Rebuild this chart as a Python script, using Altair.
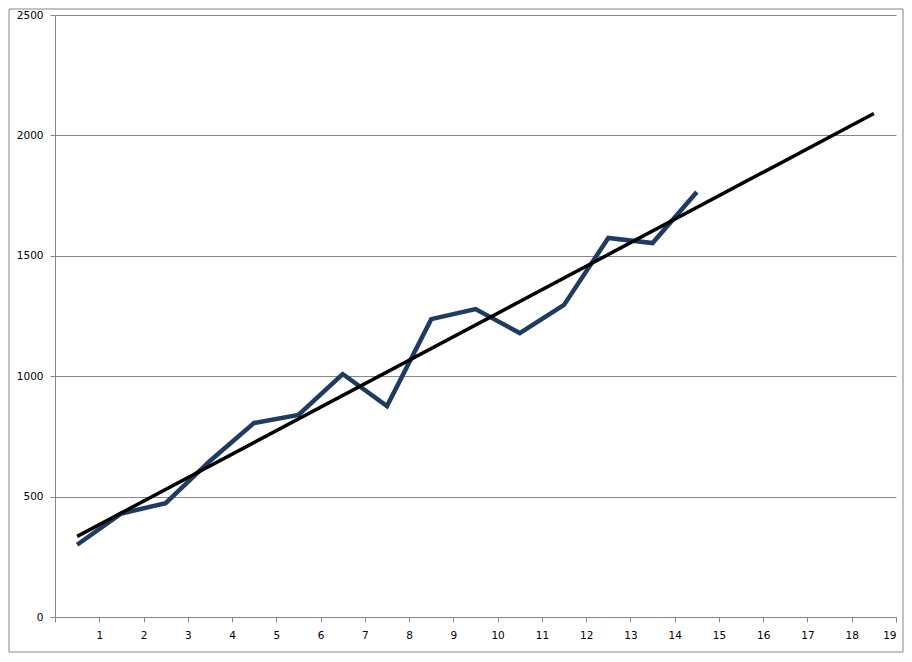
import pandas as pd
import altair as alt

# ── colours ──────────────────────────────────────────────────────────────────

SERIES_COLOR = "#1F3B63"
TREND_COLOR  = "#000000"
AXIS_COLOR   = "#868686"
FONT         = "DejaVu Sans"

# ── data ─────────────────────────────────────────────────────────────────────

positions = [0.5, 1.5, 2.5, 3.5, 4.5, 5.5, 6.5, 7.5, 8.5, 9.5, 10.5, 11.5, 12.5, 13.5, 14.5]
values    = [300, 430, 473, 648, 806, 839, 1009, 876, 1237, 1279, 1179, 1296, 1574, 1553, 1765]

x_ticks = list(range(0, 20))
y_ticks = [0, 500, 1000, 1500, 2000, 2500]

df = pd.DataFrame({"x": positions, "y": values})

W, H = 841, 602

x_enc = alt.X(
    "x:Q",
    title=None,
    scale=alt.Scale(domain=[0, 19], nice=False, zero=False),
    axis=alt.Axis(
        values=x_ticks,
        labelExpr="datum.value == 0 ? '' : datum.label",
        grid=False,
        domainColor=AXIS_COLOR,
        tickColor=AXIS_COLOR,
        tickSize=5,
        labelPadding=8,
        labelFont=FONT,
        labelFontSize=10.5,
        labelColor="#000000",
    ),
)
y_enc = alt.Y(
    "y:Q",
    title=None,
    scale=alt.Scale(domain=[0, 2500], nice=False),
    axis=alt.Axis(
        values=y_ticks,
        format="d",
        grid=True,
        gridColor=AXIS_COLOR,
        domainColor=AXIS_COLOR,
        tickColor=AXIS_COLOR,
        tickSize=5,
        labelPadding=7,
        labelFont=FONT,
        labelFontSize=10.5,
        labelColor="#000000",
    ),
)

series = (
    alt.Chart(df)
    .mark_line(color=SERIES_COLOR, strokeWidth=4.5, strokeJoin="miter")
    .encode(x=x_enc, y=y_enc)
)

trend = (
    alt.Chart(df)
    .transform_regression("x", "y", extent=[0.5, 18.5])
    .mark_line(color=TREND_COLOR, strokeWidth=3.5)
    .encode(x="x:Q", y="y:Q")
)

# outer frame round the chart
frame = (
    alt.Chart(pd.DataFrame({"a": [0]}))
    .mark_rect(fill=None, stroke=AXIS_COLOR, strokeWidth=1, clip=False)
    .encode(
        x=alt.value(-46),
        x2=alt.value(848),
        y=alt.value(-6),
        y2=alt.value(637),
    )
)

chart = (
    alt.layer(series, trend, frame)
    .properties(
        width=W,
        height=H,
        autosize=alt.AutoSizeParams(type="none"),
        padding={"left": 47, "top": 7, "right": 8, "bottom": 37},
    )
    .configure(background="white")
    .configure_view(strokeWidth=0)
)

chart.save("out.html", embed_options={"renderer": "svg", "actions": False})
